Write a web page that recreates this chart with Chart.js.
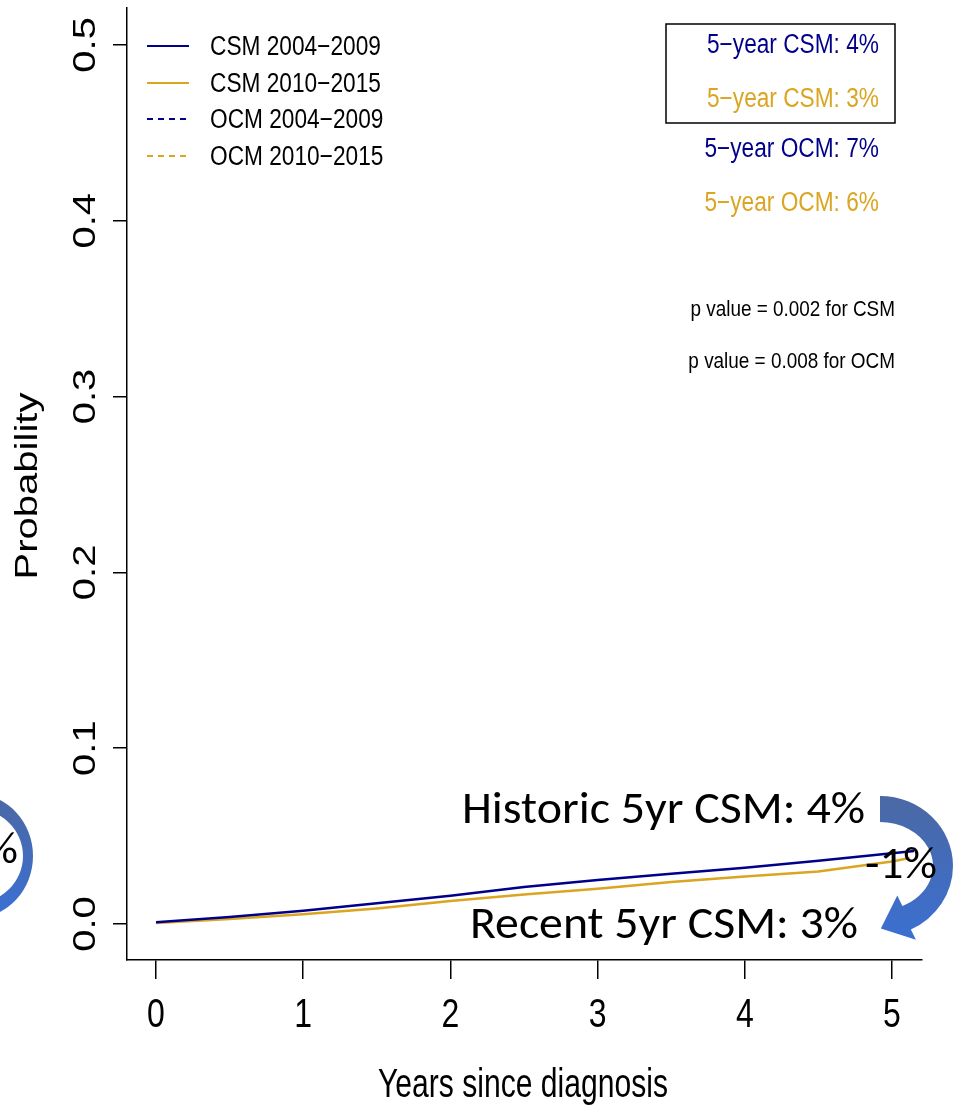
<!DOCTYPE html>
<html>
<head>
<meta charset="utf-8">
<script src="https://cdn.jsdelivr.net/npm/chart.js@4"></script>
<style>
  html, body { margin: 0; padding: 0; background: #fff; }
  canvas { display: block; }
</style>
</head>
<body>
<canvas id="chart" width="953" height="1107"></canvas>
<script>
// data
const seriesNames = ['CSM 2004\u22122009', 'CSM 2010\u22122015', 'OCM 2004\u22122009', 'OCM 2010\u22122015'];
const yearsEarly = [0, 0.5, 1, 1.5, 2, 2.5, 3, 3.5, 4, 4.5, 5, 5.15];
const csmEarly   = [0.001, 0.004, 0.0075, 0.0118, 0.016, 0.021, 0.025, 0.0285, 0.032, 0.036, 0.0402, 0.0415];
const yearsLate  = [0, 0.5, 1, 1.5, 2, 2.5, 3, 3.5, 4, 4.5, 5, 5.12];
const csmLate    = [0.0005, 0.0028, 0.0055, 0.0088, 0.013, 0.0168, 0.020, 0.0238, 0.027, 0.0298, 0.0355, 0.0375];
const xTicks = [0, 1, 2, 3, 4, 5];
const yTicks = [0, 0.1, 0.2, 0.3, 0.4, 0.5];
const yTickLabels = ['0.0', '0.1', '0.2', '0.3', '0.4', '0.5'];
const fiveYear = ['5\u2212year CSM: 4%', '5\u2212year CSM: 3%', '5\u2212year OCM: 7%', '5\u2212year OCM: 6%'];
const pValues = ['p value = 0.002 for CSM', 'p value = 0.008 for OCM'];

const NAVY = '#00008B';
const GOLD = '#DAA520';
const R_FONT = '"Liberation Sans", Arial, sans-serif';
const SLIDE_FONT = 'Carlito, Lato, sans-serif';

function pts(xs, ys) { return xs.map((x, i) => ({ x: x, y: ys[i] })); }

function txt(ctx, s, x, y, o) {
  ctx.save();
  ctx.font = o.font;
  ctx.fillStyle = o.color || '#000';
  ctx.textBaseline = o.base || 'alphabetic';
  ctx.textAlign = o.align || 'left';
  ctx.translate(x, y);
  if (o.rot) ctx.rotate(o.rot);
  let sx = o.sx || 1;
  if (o.w) sx = o.w / ctx.measureText(s).width;
  if (o.rot) ctx.scale(1, sx); else ctx.scale(sx, 1);
  ctx.fillText(s, 0, 0);
  ctx.restore();
}

function blueGrad(ctx, y0, y1) {
  const g = ctx.createLinearGradient(0, y0, 0, y1);
  g.addColorStop(0, '#4B68A4');
  g.addColorStop(1, '#3A70D4');
  return g;
}

function rightArrow(ctx) {
  const cx = 880, cy = 866;
  const a = 65 * Math.PI / 180;
  const oe = [cx + 73 * Math.cos(a), cy + 70 * Math.sin(a)];
  const ie = [cx + 53 * Math.cos(a), cy + 44 * Math.sin(a)];
  const mid = [(oe[0] + ie[0]) / 2, (oe[1] + ie[1]) / 2];
  let t = [-63 * Math.sin(a), 57 * Math.cos(a)];
  const tl = Math.hypot(t[0], t[1]); t = [t[0] / tl, t[1] / tl];
  const n = [-t[1], t[0]];
  ctx.save();
  ctx.fillStyle = blueGrad(ctx, 795, 950);
  ctx.beginPath();
  ctx.ellipse(cx, cy, 73, 70, 0, -Math.PI / 2, a, false);
  ctx.lineTo(mid[0] - 24 * n[0], mid[1] - 24 * n[1]);
  ctx.lineTo(mid[0] + 28 * t[0], mid[1] + 28 * t[1]);
  ctx.lineTo(mid[0] + 24 * n[0], mid[1] + 24 * n[1]);
  ctx.lineTo(ie[0], ie[1]);
  ctx.ellipse(cx, cy, 53, 44, 0, a, -Math.PI / 2, true);
  ctx.closePath();
  ctx.fill();
  ctx.restore();
}

function leftArc(ctx) {
  ctx.save();
  ctx.fillStyle = blueGrad(ctx, 795, 920);
  ctx.beginPath();
  ctx.ellipse(-25, 856, 58, 62, 0, -Math.PI / 2, Math.PI / 2, false);
  ctx.ellipse(-25, 856, 48, 47, 0, Math.PI / 2, -Math.PI / 2, true);
  ctx.closePath();
  ctx.fill();
  ctx.restore();
}

const decorations = {
  id: 'decorations',
  afterDraw(chart) {
    const ctx = chart.ctx;
    const xs = chart.scales.x, ys = chart.scales.y;

    // tick labels, R style
    yTicks.forEach((v, i) => {
      txt(ctx, yTickLabels[i], 95, ys.getPixelForValue(v),
        { font: '40px ' + R_FONT, align: 'center', rot: -Math.PI / 2, sx: 0.8 });
    });
    xTicks.forEach(v => {
      txt(ctx, String(v), xs.getPixelForValue(v), 1027,
        { font: '40px ' + R_FONT, align: 'center', sx: 0.8 });
    });
    txt(ctx, 'Probability', 37, 486, { font: '40px ' + R_FONT, align: 'center', rot: -Math.PI / 2, sx: 0.8 });
    txt(ctx, 'Years since diagnosis', 523, 1097, { font: '40px ' + R_FONT, align: 'center', w: 290 });

    // legend
    const rowY = [46, 83, 119, 156];
    chart.data.datasets.forEach((ds, i) => {
      ctx.save();
      ctx.strokeStyle = ds.borderColor;
      ctx.lineWidth = 2;
      ctx.setLineDash(ds.borderDash || []);
      ctx.beginPath();
      ctx.moveTo(147, rowY[i]);
      ctx.lineTo(189, rowY[i]);
      ctx.stroke();
      ctx.restore();
      txt(ctx, ds.label, 210, rowY[i] + 9, { font: '27px ' + R_FONT, sx: 0.84 });
    });

    // 5-year box
    ctx.save();
    ctx.strokeStyle = '#000';
    ctx.lineWidth = 1.5;
    ctx.strokeRect(666, 24, 229, 99);
    ctx.restore();
    const boxY = [53, 107, 157, 211];
    const boxC = [NAVY, GOLD, NAVY, GOLD];
    fiveYear.forEach((s, i) => {
      txt(ctx, s, 879, boxY[i], { font: '27px ' + R_FONT, color: boxC[i], align: 'right', sx: 0.84 });
    });
    txt(ctx, pValues[0], 895, 316, { font: '22px ' + R_FONT, align: 'right', sx: 0.86 });
    txt(ctx, pValues[1], 895, 368, { font: '22px ' + R_FONT, align: 'right', sx: 0.86 });

    // slide overlay
    rightArrow(ctx);
    leftArc(ctx);
    txt(ctx, 'Historic 5yr CSM: 4%', 462, 823, { font: '46px ' + SLIDE_FONT, w: 403 });
    txt(ctx, 'Recent 5yr CSM: 3%', 470, 938, { font: '46px ' + SLIDE_FONT, w: 388 });
    txt(ctx, '-1%', 865, 878, { font: '46px ' + SLIDE_FONT, w: 72 });
    txt(ctx, '%', 18, 863, { font: '46px ' + SLIDE_FONT, align: 'right' });
  }
};

new Chart(document.getElementById('chart'), {
  type: 'line',
  data: {
    datasets: [
      { label: seriesNames[0], data: pts(yearsEarly, csmEarly), borderColor: NAVY, borderWidth: 2.5 },
      { label: seriesNames[1], data: pts(yearsLate, csmLate), borderColor: GOLD, borderWidth: 2.5 },
      { label: seriesNames[2], data: [], borderColor: NAVY, borderWidth: 2, borderDash: [6, 5] },
      { label: seriesNames[3], data: [], borderColor: GOLD, borderWidth: 2, borderDash: [6, 5] }
    ]
  },
  options: {
    responsive: false,
    animation: false,
    devicePixelRatio: 1,
    layout: { padding: { top: 8, right: 31, left: 0, bottom: 0 } },
    elements: { point: { radius: 0 }, line: { tension: 0 } },
    plugins: { legend: { display: false }, tooltip: { enabled: false } },
    scales: {
      x: {
        type: 'linear',
        min: -0.197,
        max: 5.204,
        afterFit: s => { s.height = 147; },
        afterBuildTicks: s => { s.ticks = xTicks.map(v => ({ value: v })); },
        ticks: { display: false },
        grid: { drawOnChartArea: false, drawTicks: true, tickLength: 19, color: '#000', lineWidth: 1.5 },
        border: { display: true, color: '#000', width: 1.5 }
      },
      y: {
        type: 'linear',
        min: -0.0205,
        max: 0.521,
        afterFit: s => { s.width = 127; },
        afterBuildTicks: s => { s.ticks = yTicks.map(v => ({ value: v })); },
        ticks: { display: false },
        grid: { drawOnChartArea: false, drawTicks: true, tickLength: 14, color: '#000', lineWidth: 1.5 },
        border: { display: true, color: '#000', width: 1.5 }
      }
    }
  },
  plugins: [decorations]
});
</script>
</body>
</html>
